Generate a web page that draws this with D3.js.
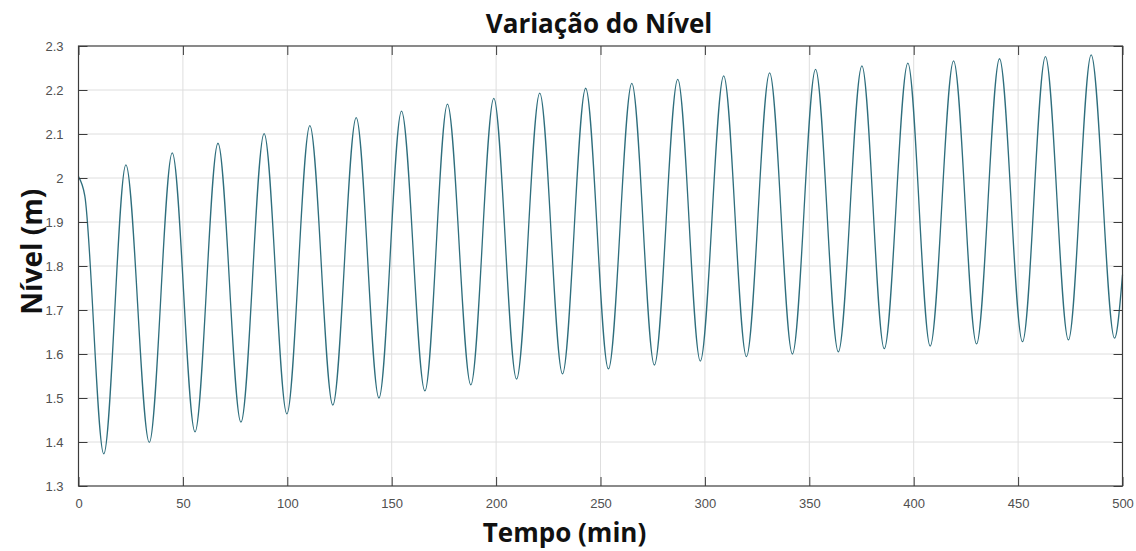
<!DOCTYPE html>
<html>
<head>
<meta charset="utf-8">
<script src="https://cdn.jsdelivr.net/npm/d3@7"></script>
<style>
  html, body { margin: 0; padding: 0; background: #fff; }
  svg { display: block; }
</style>
</head>
<body>
<svg id="chart" width="1136" height="551"></svg>
<script>
// ---- data (turning points of the level curve) ----
const timeMin = [0, 3.0, 12.1, 22.7, 33.9, 44.9, 55.8, 66.8, 77.8, 88.9, 99.8,
  110.8, 121.8, 133.0, 143.9, 154.7, 165.9, 176.7, 187.9, 198.9, 209.8,
  220.9, 231.8, 242.9, 253.8, 265.0, 275.8, 287.0, 297.8, 309.0, 319.9,
  331.0, 341.9, 353.0, 363.9, 375.2, 385.9, 397.2, 407.9, 419.1, 430.1,
  441.1, 452.1, 463.1, 474.1, 485.0, 496.2, 500];
const levelM = [2.003, 1.96, 1.373, 2.030, 1.399, 2.057, 1.423, 2.079, 1.445, 2.101, 1.464,
  2.119, 1.484, 2.137, 1.500, 2.152, 1.516, 2.168, 1.530, 2.181, 1.543,
  2.193, 1.555, 2.204, 1.566, 2.215, 1.575, 2.224, 1.584, 2.232, 1.594,
  2.239, 1.600, 2.247, 1.605, 2.255, 1.612, 2.261, 1.618, 2.266, 1.623,
  2.271, 1.628, 2.276, 1.632, 2.280, 1.636, 1.78];
const xTicks = [0, 50, 100, 150, 200, 250, 300, 350, 400, 450, 500];
const yTicks = [1.3, 1.4, 1.5, 1.6, 1.7, 1.8, 1.9, 2.0, 2.1, 2.2, 2.3];
const yTickLabels = ["1.3", "1.4", "1.5", "1.6", "1.7", "1.8", "1.9", "2", "2.1", "2.2", "2.3"];
const titleText = "Variação do Nível";
const xLabelText = "Tempo (min)";
const yLabelText = "Nível (m)";

// ---- layout ----
const plot = { left: 78.5, right: 1122.5, top: 46, bottom: 486 };
const svg = d3.select("#chart");
const x = d3.scaleLinear().domain([0, 500]).range([plot.left, plot.right]);
const y = d3.scaleLinear().domain([1.3, 2.3]).range([plot.bottom, plot.top]);

const tickColor = "#3c3c3c";
const labelColor = "#505050";
const gridColor = "#dedede";

// grid
const grid = svg.append("g");
grid.selectAll("line.gx").data(xTicks.slice(1, -1)).join("line")
  .attr("x1", d => x(d)).attr("x2", d => x(d))
  .attr("y1", plot.top).attr("y2", plot.bottom)
  .attr("stroke", gridColor).attr("stroke-width", 1);
grid.selectAll("line.gy").data(yTicks.slice(1, -1)).join("line")
  .attr("y1", d => y(d)).attr("y2", d => y(d))
  .attr("x1", plot.left).attr("x2", plot.right)
  .attr("stroke", gridColor).attr("stroke-width", 1);

// data line
const line = d3.line()
  .x((d, i) => x(timeMin[i]))
  .y(d => y(d))
  .curve(d3.curveMonotoneX);
svg.append("path")
  .datum(levelM)
  .attr("d", line)
  .attr("fill", "none")
  .attr("stroke", "#2e6e7d")
  .attr("stroke-width", 1.3);

// axes (inward ticks on all four sides)
const tl = 9;
const xb = d3.axisBottom(x).tickValues(xTicks).tickSizeInner(-tl).tickSizeOuter(0).tickPadding(tl + 4)
  .tickFormat(d3.format("d"));
const xt = d3.axisTop(x).tickValues(xTicks).tickSizeInner(-tl).tickSizeOuter(0).tickFormat("");
const yl = d3.axisLeft(y).tickValues(yTicks).tickSizeInner(-tl).tickSizeOuter(0).tickPadding(tl + 6)
  .tickFormat((d, i) => yTickLabels[i]);
const yr = d3.axisRight(y).tickValues(yTicks).tickSizeInner(-tl).tickSizeOuter(0).tickFormat("");

function styleAxis(g) {
  g.select(".domain").remove();
  g.selectAll(".tick line").attr("stroke", tickColor).attr("stroke-width", 1);
  g.selectAll(".tick text").attr("fill", labelColor)
    .style("font-family", "'Liberation Sans', Arial, sans-serif").style("font-size", "13px");
}
svg.append("g").attr("transform", `translate(0,${plot.bottom})`).call(xb).call(styleAxis);
svg.append("g").attr("transform", `translate(0,${plot.top})`).call(xt).call(styleAxis);
svg.append("g").attr("transform", `translate(${plot.left},0)`).call(yl).call(styleAxis);
svg.append("g").attr("transform", `translate(${plot.right},0)`).call(yr).call(styleAxis);

// box
svg.append("rect")
  .attr("x", plot.left).attr("y", plot.top)
  .attr("width", plot.right - plot.left).attr("height", plot.bottom - plot.top)
  .attr("fill", "none").attr("stroke", tickColor).attr("stroke-width", 1.2);

// texts
const boldFont = "'Open Sans', 'Noto Sans', sans-serif";
svg.append("text").text(titleText)
  .attr("x", 599).attr("y", 33).attr("text-anchor", "middle")
  .style("font-family", boldFont).style("font-weight", "bold").style("font-size", "26px").attr("fill", "#111");
svg.append("text").text(xLabelText)
  .attr("x", 564.5).attr("y", 542).attr("text-anchor", "middle")
  .style("font-family", boldFont).style("font-weight", "bold").style("font-size", "26px").attr("fill", "#111");
svg.append("text").text(yLabelText)
  .attr("transform", "translate(42,251.7) rotate(-90)").attr("text-anchor", "middle")
  .style("font-family", boldFont).style("font-weight", "bold").style("font-size", "28px").attr("fill", "#111");
</script>
</body>
</html>
